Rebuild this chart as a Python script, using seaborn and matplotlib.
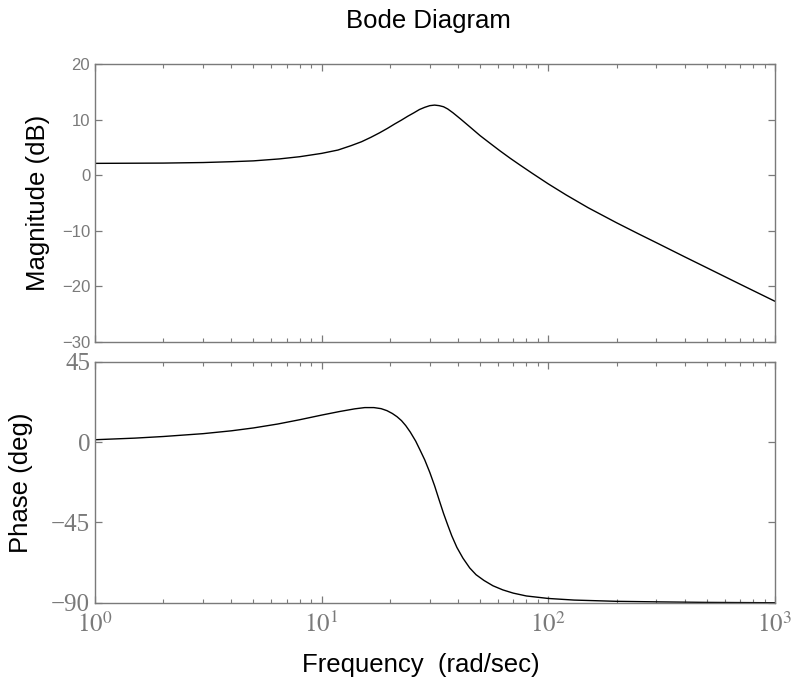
import numpy as np
import pandas as pd
import matplotlib
matplotlib.use("Agg")
import matplotlib.pyplot as plt
import matplotlib.ticker as mticker
import seaborn as sns

# values
mag_freq = [1, 2, 3, 4, 5, 6.5, 8, 10, 11.8, 13.5, 15, 16.5, 18, 19.5, 21,
            22.5, 24, 25.5, 27, 28.5, 30, 31.5, 33, 34.5, 36, 38, 41, 45, 50,
            55, 61, 68, 75, 85, 100, 120, 150, 200, 250, 300, 400, 500, 700,
            1000]
mag_db = [2.1, 2.15, 2.25, 2.4, 2.55, 2.9, 3.3, 3.9, 4.5, 5.3, 6.0, 6.8, 7.6,
          8.4, 9.2, 9.9, 10.6, 11.2, 11.8, 12.2, 12.5, 12.6, 12.5, 12.3, 11.9,
          11.2, 10.1, 8.7, 7.1, 5.8, 4.4, 3.0, 1.8, 0.3, -1.6, -3.6, -5.9,
          -8.6, -10.6, -12.2, -14.75, -16.7, -19.65, -22.75]

ph_freq = [1, 1.5, 2, 3, 4, 5, 6.4, 8, 10, 12, 14, 15.5, 17, 18.3, 19.4, 20.5,
           21.5, 22.5, 23.5, 24.6, 26, 27.2, 28.5, 30, 31.5, 33, 34.5, 36,
           37.5, 39.5, 42, 45, 48, 52, 57, 63, 70, 80, 100, 130, 200, 300,
           500, 1000]
ph_deg = [1.3, 2.2, 3.1, 4.7, 6.3, 7.9, 10.1, 12.5, 15.1, 17.1, 18.6, 19.3,
          19.3, 18.7, 17.6, 16.0, 14.2, 12.0, 9.2, 5.6, 0.5, -4.6, -10, -17,
          -24.5, -32.5, -40, -46.5, -52.5, -59, -65, -70.5, -74.3, -77.5,
          -80.5, -82.8, -84.6, -86.2, -87.6, -88.5, -89.2, -89.5, -89.8, -90]

mag_ticks = [-30, -20, -10, 0, 10, 20]
ph_ticks = [-90, -45, 0, 45]

mag = pd.DataFrame({"freq": mag_freq, "db": mag_db})
ph = pd.DataFrame({"freq": ph_freq, "deg": ph_deg})

sns.set_style("ticks")
plt.rcParams["font.family"] = ["Liberation Sans", "DejaVu Sans"]
plt.rcParams["mathtext.fontset"] = "stix"
plt.rcParams["text.color"] = "black"

gray = "#7a7a7a"
fig = plt.figure(figsize=(7.95, 6.84), dpi=100)
ax1 = fig.add_axes([0.1195, 0.5007, 0.8553, 0.4057])
ax2 = fig.add_axes([0.1195, 0.118, 0.8553, 0.3532], sharex=ax1)

sns.lineplot(data=mag, x="freq", y="db", ax=ax1, color="black", lw=1.0,
             estimator=None, sort=False)
sns.lineplot(data=ph, x="freq", y="deg", ax=ax2, color="black", lw=1.0,
             estimator=None, sort=False)

for ax in (ax1, ax2):
    ax.set_xscale("log")
    ax.set_xlim(1, 1000)
    for s in ax.spines.values():
        s.set_visible(True)
        s.set_color(gray)
        s.set_linewidth(1.0)
    ax.tick_params(which="both", direction="in", top=True, right=True,
                   color=gray, labelcolor=gray)
    ax.tick_params(which="major", length=5, width=0.9)
    ax.tick_params(which="minor", length=3, width=0.8)
    ax.xaxis.set_minor_locator(mticker.LogLocator(base=10, subs=np.arange(2, 10)))
    ax.set_xlabel("")

ax1.set_ylim(-30, 20)
ax1.set_yticks(mag_ticks)
ax1.tick_params(axis="y", labelsize=12)
ax1.tick_params(axis="x", labelbottom=False)
ax1.set_ylabel("Magnitude (dB)", fontsize=18.5, color="black")
ax1.yaxis.set_label_coords(-0.066, 0.5)

ax2.set_ylim(-90.3, 45)
ax2.set_yticks(ph_ticks)
ax2.set_yticklabels([f"\u2212{abs(t)}" if t < 0 else str(t) for t in ph_ticks],
                    family="Liberation Serif", fontsize=18)
ax2.xaxis.set_major_locator(mticker.LogLocator(base=10))
ax2.xaxis.set_major_formatter(
    mticker.FuncFormatter(lambda v, p: r"$10^{%d}$" % round(np.log10(v))))
ax2.tick_params(axis="x", labelsize=18, pad=6)
ax2.set_ylabel("Phase (deg)", fontsize=18.5, color="black")
ax2.yaxis.set_label_coords(-0.091, 0.5)

fig.text(0.529, 0.028, "Frequency  (rad/sec)", ha="center", va="center",
         fontsize=18.5, color="black")
fig.text(0.539, 0.969, "Bode Diagram", ha="center", va="center",
         fontsize=18.5, color="black")

fig.savefig("out.png", dpi=100)
